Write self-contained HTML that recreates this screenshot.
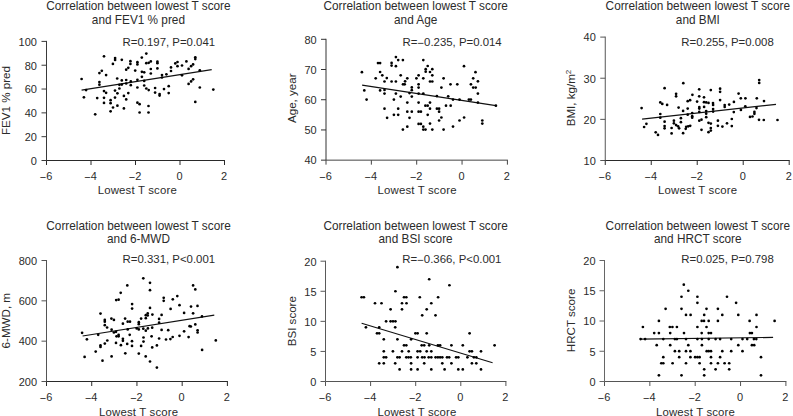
<!DOCTYPE html>
<html><head><meta charset="utf-8"><style>
html,body{margin:0;padding:0;background:#fff;width:793px;height:416px;overflow:hidden}
svg{display:block}
text{font-family:"Liberation Sans", sans-serif;font-size:11.3px;fill:#2b2b2b}
circle{fill:#000}
.tk{font-size:11px} .ti{font-size:11.8px} .an{font-size:11.4px} .xl{font-size:11.4px;letter-spacing:0.17px} .yl{font-size:11.6px}
</style></head><body>
<svg width="793" height="416" viewBox="0 0 793 416">
<path d="M46.50 40.90V160.50" stroke="#3a3a3a" stroke-width="1.0" fill="none"/>
<path d="M46.50 160.50H225.00" stroke="#2a2a2a" stroke-width="1.0" fill="none"/>
<path d="M41.50 160.50H46.50" stroke="#3a3a3a" stroke-width="1.0"/>
<text class="tk" transform="translate(36.90 164.80) scale(1 1.03)" text-anchor="end">0</text>
<path d="M41.50 136.68H46.50" stroke="#3a3a3a" stroke-width="1.0"/>
<text class="tk" transform="translate(36.90 140.98) scale(1 1.03)" text-anchor="end">20</text>
<path d="M41.50 112.86H46.50" stroke="#3a3a3a" stroke-width="1.0"/>
<text class="tk" transform="translate(36.90 117.16) scale(1 1.03)" text-anchor="end">40</text>
<path d="M41.50 89.04H46.50" stroke="#3a3a3a" stroke-width="1.0"/>
<text class="tk" transform="translate(36.90 93.34) scale(1 1.03)" text-anchor="end">60</text>
<path d="M41.50 65.22H46.50" stroke="#3a3a3a" stroke-width="1.0"/>
<text class="tk" transform="translate(36.90 69.52) scale(1 1.03)" text-anchor="end">80</text>
<path d="M41.50 41.40H46.50" stroke="#3a3a3a" stroke-width="1.0"/>
<text class="tk" transform="translate(36.90 45.70) scale(1 1.03)" text-anchor="end">100</text>
<path d="M46.50 160.50V165.00" stroke="#2a2a2a" stroke-width="1.0"/>
<text class="tk" transform="translate(46.00 180.00) scale(1 1.03)" text-anchor="middle"><tspan dy="0.9">−</tspan><tspan dy="-0.9">6</tspan></text>
<path d="M91.00 160.50V165.00" stroke="#2a2a2a" stroke-width="1.0"/>
<text class="tk" transform="translate(90.50 180.00) scale(1 1.03)" text-anchor="middle"><tspan dy="0.9">−</tspan><tspan dy="-0.9">4</tspan></text>
<path d="M135.50 160.50V165.00" stroke="#2a2a2a" stroke-width="1.0"/>
<text class="tk" transform="translate(135.00 180.00) scale(1 1.03)" text-anchor="middle"><tspan dy="0.9">−</tspan><tspan dy="-0.9">2</tspan></text>
<path d="M180.00 160.50V165.00" stroke="#2a2a2a" stroke-width="1.0"/>
<text class="tk" transform="translate(179.50 180.00) scale(1 1.03)" text-anchor="middle">0</text>
<path d="M224.50 160.50V165.00" stroke="#2a2a2a" stroke-width="1.0"/>
<text class="tk" transform="translate(224.00 180.00) scale(1 1.03)" text-anchor="middle">2</text>
<text class="ti" transform="translate(138.40 10.20) scale(1 1.03)" text-anchor="middle">Correlation between lowest T score</text>
<text class="ti" transform="translate(138.40 23.80) scale(1 1.03)" text-anchor="middle">and FEV1 % pred</text>
<text class="an" transform="translate(122.60 46.00) scale(1 1.03)">R=0.197, P=0.041</text>
<text class="xl" x="137.30" y="194.00" text-anchor="middle">Lowest T score</text>
<text class="yl" transform="translate(10.20 100.50) rotate(-90)" text-anchor="middle">FEV1 % pred</text>
<path d="M81.60 90.10L211.70 69.70" stroke="#111" stroke-width="1.2"/>
<circle cx="104.00" cy="56.30" r="1.35"/>
<circle cx="115.10" cy="58.10" r="1.35"/>
<circle cx="115.10" cy="59.90" r="1.35"/>
<circle cx="121.80" cy="59.80" r="1.35"/>
<circle cx="112.90" cy="63.90" r="1.35"/>
<circle cx="101.80" cy="70.80" r="1.35"/>
<circle cx="99.40" cy="73.10" r="1.35"/>
<circle cx="106.10" cy="75.10" r="1.35"/>
<circle cx="81.60" cy="79.00" r="1.35"/>
<circle cx="117.20" cy="78.50" r="1.35"/>
<circle cx="121.80" cy="80.40" r="1.35"/>
<circle cx="126.20" cy="80.00" r="1.35"/>
<circle cx="99.40" cy="82.00" r="1.35"/>
<circle cx="99.40" cy="84.70" r="1.35"/>
<circle cx="130.40" cy="61.20" r="1.35"/>
<circle cx="130.40" cy="63.90" r="1.35"/>
<circle cx="137.40" cy="62.20" r="1.35"/>
<circle cx="137.40" cy="64.40" r="1.35"/>
<circle cx="141.80" cy="57.60" r="1.35"/>
<circle cx="146.30" cy="53.60" r="1.35"/>
<circle cx="146.30" cy="63.20" r="1.35"/>
<circle cx="148.70" cy="62.80" r="1.35"/>
<circle cx="150.80" cy="61.40" r="1.35"/>
<circle cx="128.30" cy="67.80" r="1.35"/>
<circle cx="126.20" cy="69.70" r="1.35"/>
<circle cx="135.20" cy="70.60" r="1.35"/>
<circle cx="141.90" cy="71.80" r="1.35"/>
<circle cx="144.20" cy="72.30" r="1.35"/>
<circle cx="150.80" cy="69.00" r="1.35"/>
<circle cx="150.80" cy="73.50" r="1.35"/>
<circle cx="141.90" cy="76.80" r="1.35"/>
<circle cx="130.80" cy="81.40" r="1.35"/>
<circle cx="137.40" cy="79.80" r="1.35"/>
<circle cx="144.20" cy="80.90" r="1.35"/>
<circle cx="157.40" cy="61.70" r="1.35"/>
<circle cx="157.40" cy="63.20" r="1.35"/>
<circle cx="157.40" cy="68.40" r="1.35"/>
<circle cx="171.00" cy="67.40" r="1.35"/>
<circle cx="171.00" cy="71.00" r="1.35"/>
<circle cx="166.40" cy="74.30" r="1.35"/>
<circle cx="162.00" cy="75.00" r="1.35"/>
<circle cx="162.00" cy="77.50" r="1.35"/>
<circle cx="175.30" cy="63.40" r="1.35"/>
<circle cx="177.50" cy="62.00" r="1.35"/>
<circle cx="177.50" cy="66.20" r="1.35"/>
<circle cx="182.00" cy="65.50" r="1.35"/>
<circle cx="186.40" cy="61.40" r="1.35"/>
<circle cx="195.30" cy="57.30" r="1.35"/>
<circle cx="195.30" cy="59.10" r="1.35"/>
<circle cx="193.10" cy="64.40" r="1.35"/>
<circle cx="191.10" cy="66.20" r="1.35"/>
<circle cx="188.60" cy="68.90" r="1.35"/>
<circle cx="182.00" cy="75.30" r="1.35"/>
<circle cx="199.80" cy="70.30" r="1.35"/>
<circle cx="193.10" cy="79.30" r="1.35"/>
<circle cx="191.10" cy="81.40" r="1.35"/>
<circle cx="188.60" cy="83.90" r="1.35"/>
<circle cx="119.40" cy="84.80" r="1.35"/>
<circle cx="121.80" cy="84.60" r="1.35"/>
<circle cx="126.20" cy="83.50" r="1.35"/>
<circle cx="130.80" cy="85.20" r="1.35"/>
<circle cx="144.20" cy="85.50" r="1.35"/>
<circle cx="119.40" cy="88.50" r="1.35"/>
<circle cx="86.10" cy="90.10" r="1.35"/>
<circle cx="83.90" cy="97.30" r="1.35"/>
<circle cx="97.20" cy="98.10" r="1.35"/>
<circle cx="104.00" cy="91.10" r="1.35"/>
<circle cx="106.10" cy="92.80" r="1.35"/>
<circle cx="104.00" cy="97.80" r="1.35"/>
<circle cx="104.00" cy="102.90" r="1.35"/>
<circle cx="95.20" cy="114.30" r="1.35"/>
<circle cx="115.00" cy="90.60" r="1.35"/>
<circle cx="117.40" cy="93.30" r="1.35"/>
<circle cx="115.00" cy="97.60" r="1.35"/>
<circle cx="110.60" cy="100.20" r="1.35"/>
<circle cx="110.60" cy="103.20" r="1.35"/>
<circle cx="113.00" cy="107.50" r="1.35"/>
<circle cx="117.40" cy="105.70" r="1.35"/>
<circle cx="110.60" cy="111.30" r="1.35"/>
<circle cx="123.90" cy="95.90" r="1.35"/>
<circle cx="126.20" cy="99.40" r="1.35"/>
<circle cx="128.30" cy="93.10" r="1.35"/>
<circle cx="123.90" cy="108.40" r="1.35"/>
<circle cx="137.40" cy="87.50" r="1.35"/>
<circle cx="146.30" cy="88.50" r="1.35"/>
<circle cx="148.70" cy="90.10" r="1.35"/>
<circle cx="137.40" cy="102.70" r="1.35"/>
<circle cx="139.60" cy="104.20" r="1.35"/>
<circle cx="148.50" cy="106.00" r="1.35"/>
<circle cx="139.60" cy="112.50" r="1.35"/>
<circle cx="148.50" cy="112.50" r="1.35"/>
<circle cx="155.10" cy="88.00" r="1.35"/>
<circle cx="155.10" cy="92.60" r="1.35"/>
<circle cx="159.60" cy="94.10" r="1.35"/>
<circle cx="159.60" cy="95.60" r="1.35"/>
<circle cx="164.00" cy="89.10" r="1.35"/>
<circle cx="168.70" cy="86.20" r="1.35"/>
<circle cx="168.70" cy="93.10" r="1.35"/>
<circle cx="199.80" cy="87.50" r="1.35"/>
<circle cx="213.30" cy="89.60" r="1.35"/>
<circle cx="195.30" cy="101.90" r="1.35"/>
<path d="M326.00 38.80V160.15" stroke="#333" stroke-width="1.0" fill="none"/>
<path d="M326.00 160.15H507.90" stroke="#444" stroke-width="1.0" fill="none"/>
<path d="M321.00 160.15H326.00" stroke="#333" stroke-width="1.0"/>
<text class="tk" transform="translate(316.70 164.45) scale(1 1.03)" text-anchor="end">40</text>
<path d="M321.00 129.94H326.00" stroke="#333" stroke-width="1.0"/>
<text class="tk" transform="translate(316.70 134.24) scale(1 1.03)" text-anchor="end">50</text>
<path d="M321.00 99.72H326.00" stroke="#333" stroke-width="1.0"/>
<text class="tk" transform="translate(316.70 104.02) scale(1 1.03)" text-anchor="end">60</text>
<path d="M321.00 69.51H326.00" stroke="#333" stroke-width="1.0"/>
<text class="tk" transform="translate(316.70 73.81) scale(1 1.03)" text-anchor="end">70</text>
<path d="M321.00 39.30H326.00" stroke="#333" stroke-width="1.0"/>
<text class="tk" transform="translate(316.70 43.60) scale(1 1.03)" text-anchor="end">80</text>
<path d="M326.00 160.15V164.65" stroke="#444" stroke-width="1.0"/>
<text class="tk" transform="translate(325.50 179.65) scale(1 1.03)" text-anchor="middle"><tspan dy="0.9">−</tspan><tspan dy="-0.9">6</tspan></text>
<path d="M371.35 160.15V164.65" stroke="#444" stroke-width="1.0"/>
<text class="tk" transform="translate(370.85 179.65) scale(1 1.03)" text-anchor="middle"><tspan dy="0.9">−</tspan><tspan dy="-0.9">4</tspan></text>
<path d="M416.70 160.15V164.65" stroke="#444" stroke-width="1.0"/>
<text class="tk" transform="translate(416.20 179.65) scale(1 1.03)" text-anchor="middle"><tspan dy="0.9">−</tspan><tspan dy="-0.9">2</tspan></text>
<path d="M462.05 160.15V164.65" stroke="#444" stroke-width="1.0"/>
<text class="tk" transform="translate(461.55 179.65) scale(1 1.03)" text-anchor="middle">0</text>
<path d="M507.40 160.15V164.65" stroke="#444" stroke-width="1.0"/>
<text class="tk" transform="translate(506.90 179.65) scale(1 1.03)" text-anchor="middle">2</text>
<text class="ti" transform="translate(415.70 10.20) scale(1 1.03)" text-anchor="middle">Correlation between lowest T score</text>
<text class="ti" transform="translate(415.70 23.80) scale(1 1.03)" text-anchor="middle">and Age</text>
<text class="an" transform="translate(402.50 46.00) scale(1 1.03)">R=<tspan dy="0.9">−</tspan><tspan dy="-0.9">0.235</tspan>, P=0.014</text>
<text class="xl" x="417.10" y="194.00" text-anchor="middle">Lowest T score</text>
<text class="yl" transform="translate(296.40 98.20) rotate(-90)" text-anchor="middle">Age, year</text>
<path d="M362.10 85.20L495.90 105.70" stroke="#111" stroke-width="1.2"/>
<circle cx="395.90" cy="57.10" r="1.35"/>
<circle cx="398.20" cy="60.10" r="1.35"/>
<circle cx="402.90" cy="60.10" r="1.35"/>
<circle cx="423.30" cy="60.10" r="1.35"/>
<circle cx="378.00" cy="63.10" r="1.35"/>
<circle cx="380.10" cy="63.10" r="1.35"/>
<circle cx="391.60" cy="62.90" r="1.35"/>
<circle cx="391.60" cy="65.60" r="1.35"/>
<circle cx="395.90" cy="66.20" r="1.35"/>
<circle cx="427.70" cy="66.00" r="1.35"/>
<circle cx="425.70" cy="69.20" r="1.35"/>
<circle cx="425.70" cy="71.70" r="1.35"/>
<circle cx="432.30" cy="69.20" r="1.35"/>
<circle cx="430.00" cy="72.00" r="1.35"/>
<circle cx="432.30" cy="75.30" r="1.35"/>
<circle cx="361.90" cy="72.20" r="1.35"/>
<circle cx="380.10" cy="72.00" r="1.35"/>
<circle cx="382.30" cy="75.30" r="1.35"/>
<circle cx="375.70" cy="78.30" r="1.35"/>
<circle cx="386.80" cy="78.10" r="1.35"/>
<circle cx="384.50" cy="81.50" r="1.35"/>
<circle cx="391.60" cy="81.50" r="1.35"/>
<circle cx="395.90" cy="81.50" r="1.35"/>
<circle cx="400.70" cy="75.30" r="1.35"/>
<circle cx="407.30" cy="78.30" r="1.35"/>
<circle cx="405.10" cy="81.30" r="1.35"/>
<circle cx="403.00" cy="84.30" r="1.35"/>
<circle cx="404.70" cy="84.30" r="1.35"/>
<circle cx="418.60" cy="75.30" r="1.35"/>
<circle cx="416.40" cy="78.30" r="1.35"/>
<circle cx="423.30" cy="78.30" r="1.35"/>
<circle cx="430.00" cy="81.50" r="1.35"/>
<circle cx="432.30" cy="81.50" r="1.35"/>
<circle cx="418.60" cy="84.30" r="1.35"/>
<circle cx="418.60" cy="87.60" r="1.35"/>
<circle cx="411.80" cy="87.40" r="1.35"/>
<circle cx="411.80" cy="90.20" r="1.35"/>
<circle cx="364.30" cy="90.40" r="1.35"/>
<circle cx="380.10" cy="90.40" r="1.35"/>
<circle cx="384.50" cy="89.90" r="1.35"/>
<circle cx="464.00" cy="66.20" r="1.35"/>
<circle cx="475.50" cy="72.20" r="1.35"/>
<circle cx="473.20" cy="78.30" r="1.35"/>
<circle cx="477.90" cy="81.30" r="1.35"/>
<circle cx="470.90" cy="84.30" r="1.35"/>
<circle cx="473.20" cy="87.60" r="1.35"/>
<circle cx="475.70" cy="87.60" r="1.35"/>
<circle cx="443.60" cy="78.30" r="1.35"/>
<circle cx="450.50" cy="84.30" r="1.35"/>
<circle cx="457.30" cy="84.30" r="1.35"/>
<circle cx="441.40" cy="87.60" r="1.35"/>
<circle cx="384.50" cy="93.60" r="1.35"/>
<circle cx="395.90" cy="93.60" r="1.35"/>
<circle cx="400.70" cy="96.60" r="1.35"/>
<circle cx="409.50" cy="93.10" r="1.35"/>
<circle cx="411.80" cy="96.60" r="1.35"/>
<circle cx="418.60" cy="93.60" r="1.35"/>
<circle cx="423.30" cy="93.60" r="1.35"/>
<circle cx="366.60" cy="99.60" r="1.35"/>
<circle cx="393.90" cy="99.60" r="1.35"/>
<circle cx="407.30" cy="102.60" r="1.35"/>
<circle cx="418.60" cy="102.60" r="1.35"/>
<circle cx="430.00" cy="102.60" r="1.35"/>
<circle cx="425.40" cy="105.70" r="1.35"/>
<circle cx="427.70" cy="105.70" r="1.35"/>
<circle cx="430.00" cy="108.70" r="1.35"/>
<circle cx="384.50" cy="108.70" r="1.35"/>
<circle cx="398.20" cy="108.70" r="1.35"/>
<circle cx="407.30" cy="111.70" r="1.35"/>
<circle cx="411.80" cy="111.70" r="1.35"/>
<circle cx="418.60" cy="111.70" r="1.35"/>
<circle cx="420.90" cy="111.70" r="1.35"/>
<circle cx="393.90" cy="114.80" r="1.35"/>
<circle cx="398.20" cy="114.80" r="1.35"/>
<circle cx="427.70" cy="114.80" r="1.35"/>
<circle cx="387.10" cy="117.80" r="1.35"/>
<circle cx="409.50" cy="117.80" r="1.35"/>
<circle cx="418.60" cy="123.90" r="1.35"/>
<circle cx="420.90" cy="123.90" r="1.35"/>
<circle cx="430.00" cy="123.60" r="1.35"/>
<circle cx="407.30" cy="126.70" r="1.35"/>
<circle cx="423.30" cy="126.70" r="1.35"/>
<circle cx="436.90" cy="96.10" r="1.35"/>
<circle cx="448.20" cy="96.30" r="1.35"/>
<circle cx="453.00" cy="99.60" r="1.35"/>
<circle cx="459.50" cy="99.60" r="1.35"/>
<circle cx="468.90" cy="99.60" r="1.35"/>
<circle cx="470.90" cy="99.60" r="1.35"/>
<circle cx="477.90" cy="93.60" r="1.35"/>
<circle cx="477.90" cy="102.60" r="1.35"/>
<circle cx="495.90" cy="105.70" r="1.35"/>
<circle cx="446.00" cy="105.70" r="1.35"/>
<circle cx="450.70" cy="105.70" r="1.35"/>
<circle cx="436.90" cy="108.70" r="1.35"/>
<circle cx="439.10" cy="108.70" r="1.35"/>
<circle cx="439.10" cy="111.70" r="1.35"/>
<circle cx="441.40" cy="117.50" r="1.35"/>
<circle cx="439.10" cy="120.50" r="1.35"/>
<circle cx="464.10" cy="117.50" r="1.35"/>
<circle cx="459.50" cy="120.50" r="1.35"/>
<circle cx="482.30" cy="120.50" r="1.35"/>
<circle cx="482.30" cy="123.60" r="1.35"/>
<circle cx="453.00" cy="126.60" r="1.35"/>
<circle cx="402.90" cy="129.60" r="1.35"/>
<circle cx="423.30" cy="129.60" r="1.35"/>
<circle cx="425.50" cy="129.60" r="1.35"/>
<circle cx="432.30" cy="129.60" r="1.35"/>
<circle cx="443.60" cy="129.60" r="1.35"/>
<path d="M605.25 36.60V160.50" stroke="#555" stroke-width="1.0" fill="none"/>
<path d="M605.25 160.50H789.70" stroke="#2a2a2a" stroke-width="1.0" fill="none"/>
<path d="M600.25 160.50H605.25" stroke="#555" stroke-width="1.0"/>
<text class="tk" transform="translate(595.85 164.80) scale(1 1.03)" text-anchor="end">10</text>
<path d="M600.25 119.37H605.25" stroke="#555" stroke-width="1.0"/>
<text class="tk" transform="translate(595.85 123.67) scale(1 1.03)" text-anchor="end">20</text>
<path d="M600.25 78.23H605.25" stroke="#555" stroke-width="1.0"/>
<text class="tk" transform="translate(595.85 82.53) scale(1 1.03)" text-anchor="end">30</text>
<path d="M600.25 37.10H605.25" stroke="#555" stroke-width="1.0"/>
<text class="tk" transform="translate(595.85 41.40) scale(1 1.03)" text-anchor="end">40</text>
<path d="M605.25 160.50V165.00" stroke="#2a2a2a" stroke-width="1.0"/>
<text class="tk" transform="translate(604.75 180.00) scale(1 1.03)" text-anchor="middle"><tspan dy="0.9">−</tspan><tspan dy="-0.9">6</tspan></text>
<path d="M651.24 160.50V165.00" stroke="#2a2a2a" stroke-width="1.0"/>
<text class="tk" transform="translate(650.74 180.00) scale(1 1.03)" text-anchor="middle"><tspan dy="0.9">−</tspan><tspan dy="-0.9">4</tspan></text>
<path d="M697.23 160.50V165.00" stroke="#2a2a2a" stroke-width="1.0"/>
<text class="tk" transform="translate(696.73 180.00) scale(1 1.03)" text-anchor="middle"><tspan dy="0.9">−</tspan><tspan dy="-0.9">2</tspan></text>
<path d="M743.21 160.50V165.00" stroke="#2a2a2a" stroke-width="1.0"/>
<text class="tk" transform="translate(742.71 180.00) scale(1 1.03)" text-anchor="middle">0</text>
<path d="M789.20 160.50V165.00" stroke="#2a2a2a" stroke-width="1.0"/>
<text class="tk" transform="translate(788.70 180.00) scale(1 1.03)" text-anchor="middle">2</text>
<text class="ti" transform="translate(697.80 10.20) scale(1 1.03)" text-anchor="middle">Correlation between lowest T score</text>
<text class="ti" transform="translate(697.80 23.80) scale(1 1.03)" text-anchor="middle">and BMI</text>
<text class="an" transform="translate(681.30 45.80) scale(1 1.03)">R=0.255, P=0.008</text>
<text class="xl" x="697.70" y="194.00" text-anchor="middle">Lowest T score</text>
<text class="yl" transform="translate(575.20 98.00) rotate(-90)" text-anchor="middle">BMI, kg/m<tspan dy="-4" font-size="8">2</tspan></text>
<path d="M642.10 119.20L776.00 104.40" stroke="#111" stroke-width="1.2"/>
<circle cx="683.30" cy="83.20" r="1.35"/>
<circle cx="664.60" cy="88.20" r="1.35"/>
<circle cx="699.20" cy="89.30" r="1.35"/>
<circle cx="710.80" cy="90.10" r="1.35"/>
<circle cx="676.10" cy="93.80" r="1.35"/>
<circle cx="676.10" cy="96.30" r="1.35"/>
<circle cx="692.40" cy="94.80" r="1.35"/>
<circle cx="699.20" cy="96.30" r="1.35"/>
<circle cx="704.00" cy="97.30" r="1.35"/>
<circle cx="687.70" cy="101.20" r="1.35"/>
<circle cx="690.10" cy="100.20" r="1.35"/>
<circle cx="697.10" cy="101.60" r="1.35"/>
<circle cx="704.00" cy="102.20" r="1.35"/>
<circle cx="706.20" cy="102.40" r="1.35"/>
<circle cx="708.50" cy="102.90" r="1.35"/>
<circle cx="660.30" cy="102.40" r="1.35"/>
<circle cx="662.30" cy="103.90" r="1.35"/>
<circle cx="667.10" cy="104.90" r="1.35"/>
<circle cx="720.10" cy="88.70" r="1.35"/>
<circle cx="720.10" cy="91.80" r="1.35"/>
<circle cx="720.10" cy="100.10" r="1.35"/>
<circle cx="759.20" cy="80.00" r="1.35"/>
<circle cx="759.20" cy="82.90" r="1.35"/>
<circle cx="738.60" cy="93.60" r="1.35"/>
<circle cx="740.80" cy="98.30" r="1.35"/>
<circle cx="745.40" cy="98.30" r="1.35"/>
<circle cx="756.80" cy="98.30" r="1.35"/>
<circle cx="764.00" cy="101.10" r="1.35"/>
<circle cx="733.90" cy="101.90" r="1.35"/>
<circle cx="713.00" cy="103.10" r="1.35"/>
<circle cx="641.60" cy="108.10" r="1.35"/>
<circle cx="660.30" cy="114.00" r="1.35"/>
<circle cx="660.30" cy="117.70" r="1.35"/>
<circle cx="646.40" cy="123.80" r="1.35"/>
<circle cx="644.10" cy="127.00" r="1.35"/>
<circle cx="664.60" cy="121.70" r="1.35"/>
<circle cx="664.60" cy="126.10" r="1.35"/>
<circle cx="664.60" cy="128.30" r="1.35"/>
<circle cx="673.90" cy="120.70" r="1.35"/>
<circle cx="673.90" cy="123.30" r="1.35"/>
<circle cx="671.60" cy="128.00" r="1.35"/>
<circle cx="671.60" cy="133.40" r="1.35"/>
<circle cx="655.70" cy="132.30" r="1.35"/>
<circle cx="658.00" cy="134.90" r="1.35"/>
<circle cx="678.60" cy="107.60" r="1.35"/>
<circle cx="687.70" cy="108.60" r="1.35"/>
<circle cx="683.10" cy="110.90" r="1.35"/>
<circle cx="699.30" cy="107.10" r="1.35"/>
<circle cx="699.30" cy="108.60" r="1.35"/>
<circle cx="704.10" cy="106.90" r="1.35"/>
<circle cx="699.30" cy="111.90" r="1.35"/>
<circle cx="692.20" cy="113.00" r="1.35"/>
<circle cx="706.20" cy="111.10" r="1.35"/>
<circle cx="706.20" cy="113.70" r="1.35"/>
<circle cx="687.70" cy="114.70" r="1.35"/>
<circle cx="692.20" cy="116.20" r="1.35"/>
<circle cx="692.20" cy="117.70" r="1.35"/>
<circle cx="706.20" cy="117.20" r="1.35"/>
<circle cx="680.90" cy="118.20" r="1.35"/>
<circle cx="680.90" cy="122.20" r="1.35"/>
<circle cx="699.30" cy="120.70" r="1.35"/>
<circle cx="701.50" cy="119.70" r="1.35"/>
<circle cx="676.10" cy="125.10" r="1.35"/>
<circle cx="678.10" cy="126.30" r="1.35"/>
<circle cx="679.10" cy="128.30" r="1.35"/>
<circle cx="686.20" cy="126.80" r="1.35"/>
<circle cx="688.20" cy="126.30" r="1.35"/>
<circle cx="690.20" cy="125.80" r="1.35"/>
<circle cx="685.70" cy="128.80" r="1.35"/>
<circle cx="683.10" cy="133.20" r="1.35"/>
<circle cx="701.50" cy="129.80" r="1.35"/>
<circle cx="708.50" cy="122.80" r="1.35"/>
<circle cx="710.80" cy="123.60" r="1.35"/>
<circle cx="710.80" cy="128.00" r="1.35"/>
<circle cx="710.80" cy="130.60" r="1.35"/>
<circle cx="708.50" cy="132.20" r="1.35"/>
<circle cx="713.10" cy="104.90" r="1.35"/>
<circle cx="724.70" cy="105.10" r="1.35"/>
<circle cx="724.70" cy="106.90" r="1.35"/>
<circle cx="729.20" cy="104.60" r="1.35"/>
<circle cx="713.10" cy="109.10" r="1.35"/>
<circle cx="713.10" cy="111.60" r="1.35"/>
<circle cx="733.80" cy="112.10" r="1.35"/>
<circle cx="740.90" cy="109.90" r="1.35"/>
<circle cx="731.80" cy="119.00" r="1.35"/>
<circle cx="717.90" cy="120.70" r="1.35"/>
<circle cx="727.00" cy="123.30" r="1.35"/>
<circle cx="717.90" cy="125.80" r="1.35"/>
<circle cx="722.40" cy="126.60" r="1.35"/>
<circle cx="731.80" cy="126.10" r="1.35"/>
<circle cx="745.30" cy="106.30" r="1.35"/>
<circle cx="756.50" cy="108.10" r="1.35"/>
<circle cx="754.40" cy="111.90" r="1.35"/>
<circle cx="754.40" cy="113.80" r="1.35"/>
<circle cx="750.00" cy="116.90" r="1.35"/>
<circle cx="752.50" cy="116.50" r="1.35"/>
<circle cx="759.00" cy="119.80" r="1.35"/>
<circle cx="763.80" cy="120.00" r="1.35"/>
<circle cx="777.50" cy="120.00" r="1.35"/>
<path d="M46.50 260.00V381.50" stroke="#555" stroke-width="1.0" fill="none"/>
<path d="M46.50 381.50H227.90" stroke="#2a2a2a" stroke-width="1.0" fill="none"/>
<path d="M41.50 381.50H46.50" stroke="#555" stroke-width="1.0"/>
<text class="tk" transform="translate(37.00 385.80) scale(1 1.03)" text-anchor="end">200</text>
<path d="M41.50 341.17H46.50" stroke="#555" stroke-width="1.0"/>
<text class="tk" transform="translate(37.00 345.47) scale(1 1.03)" text-anchor="end">400</text>
<path d="M41.50 300.83H46.50" stroke="#555" stroke-width="1.0"/>
<text class="tk" transform="translate(37.00 305.13) scale(1 1.03)" text-anchor="end">600</text>
<path d="M41.50 260.50H46.50" stroke="#555" stroke-width="1.0"/>
<text class="tk" transform="translate(37.00 264.80) scale(1 1.03)" text-anchor="end">800</text>
<path d="M46.50 381.50V386.00" stroke="#2a2a2a" stroke-width="1.0"/>
<text class="tk" transform="translate(46.00 401.00) scale(1 1.03)" text-anchor="middle"><tspan dy="0.9">−</tspan><tspan dy="-0.9">6</tspan></text>
<path d="M91.72 381.50V386.00" stroke="#2a2a2a" stroke-width="1.0"/>
<text class="tk" transform="translate(91.22 401.00) scale(1 1.03)" text-anchor="middle"><tspan dy="0.9">−</tspan><tspan dy="-0.9">4</tspan></text>
<path d="M136.95 381.50V386.00" stroke="#2a2a2a" stroke-width="1.0"/>
<text class="tk" transform="translate(136.45 401.00) scale(1 1.03)" text-anchor="middle"><tspan dy="0.9">−</tspan><tspan dy="-0.9">2</tspan></text>
<path d="M182.18 381.50V386.00" stroke="#2a2a2a" stroke-width="1.0"/>
<text class="tk" transform="translate(181.68 401.00) scale(1 1.03)" text-anchor="middle">0</text>
<path d="M227.40 381.50V386.00" stroke="#2a2a2a" stroke-width="1.0"/>
<text class="tk" transform="translate(226.90 401.00) scale(1 1.03)" text-anchor="middle">2</text>
<text class="ti" transform="translate(138.50 229.90) scale(1 1.03)" text-anchor="middle">Correlation between lowest T score</text>
<text class="ti" transform="translate(138.50 243.00) scale(1 1.03)" text-anchor="middle">and 6-MWD</text>
<text class="an" transform="translate(122.60 263.00) scale(1 1.03)">R=0.331, P&lt;0.001</text>
<text class="xl" x="138.70" y="415.50" text-anchor="middle">Lowest T score</text>
<text class="yl" transform="translate(10.20 320.70) rotate(-90)" text-anchor="middle">6-MWD, m</text>
<path d="M82.60 336.00L214.30 315.20" stroke="#111" stroke-width="1.2"/>
<circle cx="143.30" cy="278.30" r="1.35"/>
<circle cx="150.00" cy="282.80" r="1.35"/>
<circle cx="127.30" cy="285.40" r="1.35"/>
<circle cx="150.00" cy="290.20" r="1.35"/>
<circle cx="120.70" cy="292.80" r="1.35"/>
<circle cx="116.20" cy="300.10" r="1.35"/>
<circle cx="118.60" cy="299.70" r="1.35"/>
<circle cx="132.10" cy="304.10" r="1.35"/>
<circle cx="132.10" cy="308.60" r="1.35"/>
<circle cx="150.00" cy="307.90" r="1.35"/>
<circle cx="193.10" cy="285.40" r="1.35"/>
<circle cx="195.30" cy="289.40" r="1.35"/>
<circle cx="177.30" cy="296.10" r="1.35"/>
<circle cx="163.70" cy="297.80" r="1.35"/>
<circle cx="163.70" cy="300.80" r="1.35"/>
<circle cx="172.80" cy="299.30" r="1.35"/>
<circle cx="179.50" cy="305.20" r="1.35"/>
<circle cx="191.00" cy="306.60" r="1.35"/>
<circle cx="197.50" cy="305.90" r="1.35"/>
<circle cx="170.60" cy="308.90" r="1.35"/>
<circle cx="100.50" cy="313.60" r="1.35"/>
<circle cx="104.80" cy="319.90" r="1.35"/>
<circle cx="104.80" cy="321.70" r="1.35"/>
<circle cx="111.40" cy="318.60" r="1.35"/>
<circle cx="113.90" cy="319.90" r="1.35"/>
<circle cx="104.80" cy="325.20" r="1.35"/>
<circle cx="107.10" cy="327.50" r="1.35"/>
<circle cx="82.10" cy="332.80" r="1.35"/>
<circle cx="98.20" cy="334.80" r="1.35"/>
<circle cx="111.60" cy="329.70" r="1.35"/>
<circle cx="113.90" cy="332.50" r="1.35"/>
<circle cx="86.90" cy="339.30" r="1.35"/>
<circle cx="107.30" cy="340.50" r="1.35"/>
<circle cx="104.80" cy="343.60" r="1.35"/>
<circle cx="100.50" cy="345.40" r="1.35"/>
<circle cx="100.50" cy="346.90" r="1.35"/>
<circle cx="125.10" cy="318.60" r="1.35"/>
<circle cx="127.70" cy="321.70" r="1.35"/>
<circle cx="130.00" cy="321.70" r="1.35"/>
<circle cx="122.90" cy="323.70" r="1.35"/>
<circle cx="141.10" cy="318.60" r="1.35"/>
<circle cx="138.80" cy="322.20" r="1.35"/>
<circle cx="138.80" cy="324.20" r="1.35"/>
<circle cx="145.80" cy="315.20" r="1.35"/>
<circle cx="147.70" cy="313.40" r="1.35"/>
<circle cx="147.70" cy="315.50" r="1.35"/>
<circle cx="152.40" cy="314.60" r="1.35"/>
<circle cx="145.80" cy="318.20" r="1.35"/>
<circle cx="136.70" cy="328.40" r="1.35"/>
<circle cx="138.80" cy="329.40" r="1.35"/>
<circle cx="127.70" cy="329.40" r="1.35"/>
<circle cx="143.30" cy="328.70" r="1.35"/>
<circle cx="145.80" cy="330.70" r="1.35"/>
<circle cx="147.90" cy="328.40" r="1.35"/>
<circle cx="116.00" cy="331.80" r="1.35"/>
<circle cx="116.50" cy="336.30" r="1.35"/>
<circle cx="118.60" cy="336.30" r="1.35"/>
<circle cx="118.60" cy="334.80" r="1.35"/>
<circle cx="129.70" cy="334.80" r="1.35"/>
<circle cx="122.90" cy="338.80" r="1.35"/>
<circle cx="122.90" cy="340.80" r="1.35"/>
<circle cx="116.00" cy="342.90" r="1.35"/>
<circle cx="132.00" cy="341.20" r="1.35"/>
<circle cx="143.50" cy="337.50" r="1.35"/>
<circle cx="143.50" cy="341.60" r="1.35"/>
<circle cx="127.20" cy="343.90" r="1.35"/>
<circle cx="120.90" cy="345.20" r="1.35"/>
<circle cx="132.00" cy="345.90" r="1.35"/>
<circle cx="141.10" cy="345.90" r="1.35"/>
<circle cx="151.60" cy="336.30" r="1.35"/>
<circle cx="184.10" cy="312.90" r="1.35"/>
<circle cx="161.60" cy="314.90" r="1.35"/>
<circle cx="159.10" cy="318.90" r="1.35"/>
<circle cx="159.10" cy="322.70" r="1.35"/>
<circle cx="152.20" cy="327.70" r="1.35"/>
<circle cx="161.60" cy="329.90" r="1.35"/>
<circle cx="168.20" cy="330.20" r="1.35"/>
<circle cx="184.10" cy="331.30" r="1.35"/>
<circle cx="159.10" cy="338.50" r="1.35"/>
<circle cx="166.00" cy="339.50" r="1.35"/>
<circle cx="170.40" cy="339.10" r="1.35"/>
<circle cx="172.70" cy="337.00" r="1.35"/>
<circle cx="179.50" cy="335.80" r="1.35"/>
<circle cx="188.60" cy="337.10" r="1.35"/>
<circle cx="156.90" cy="345.40" r="1.35"/>
<circle cx="152.20" cy="347.40" r="1.35"/>
<circle cx="189.60" cy="326.20" r="1.35"/>
<circle cx="193.10" cy="313.30" r="1.35"/>
<circle cx="202.00" cy="316.40" r="1.35"/>
<circle cx="190.90" cy="326.50" r="1.35"/>
<circle cx="195.30" cy="324.40" r="1.35"/>
<circle cx="197.60" cy="330.30" r="1.35"/>
<circle cx="197.60" cy="332.50" r="1.35"/>
<circle cx="215.80" cy="340.40" r="1.35"/>
<circle cx="95.70" cy="351.60" r="1.35"/>
<circle cx="84.60" cy="356.90" r="1.35"/>
<circle cx="102.50" cy="360.70" r="1.35"/>
<circle cx="111.60" cy="356.40" r="1.35"/>
<circle cx="125.30" cy="353.30" r="1.35"/>
<circle cx="138.80" cy="353.60" r="1.35"/>
<circle cx="145.70" cy="356.40" r="1.35"/>
<circle cx="150.00" cy="361.50" r="1.35"/>
<circle cx="156.90" cy="367.60" r="1.35"/>
<circle cx="202.10" cy="349.90" r="1.35"/>
<path d="M325.50 260.70V381.50" stroke="#5a5a5a" stroke-width="1.0" fill="none"/>
<path d="M325.50 381.50H506.40" stroke="#555" stroke-width="1.0" fill="none"/>
<path d="M320.50 381.50H325.50" stroke="#5a5a5a" stroke-width="1.0"/>
<text class="tk" transform="translate(316.50 385.80) scale(1 1.03)" text-anchor="end">0</text>
<path d="M320.50 351.43H325.50" stroke="#5a5a5a" stroke-width="1.0"/>
<text class="tk" transform="translate(316.50 355.73) scale(1 1.03)" text-anchor="end">5</text>
<path d="M320.50 321.35H325.50" stroke="#5a5a5a" stroke-width="1.0"/>
<text class="tk" transform="translate(316.50 325.65) scale(1 1.03)" text-anchor="end">10</text>
<path d="M320.50 291.27H325.50" stroke="#5a5a5a" stroke-width="1.0"/>
<text class="tk" transform="translate(316.50 295.57) scale(1 1.03)" text-anchor="end">15</text>
<path d="M320.50 261.20H325.50" stroke="#5a5a5a" stroke-width="1.0"/>
<text class="tk" transform="translate(316.50 265.50) scale(1 1.03)" text-anchor="end">20</text>
<path d="M325.50 381.50V386.00" stroke="#555" stroke-width="1.0"/>
<text class="tk" transform="translate(325.00 401.00) scale(1 1.03)" text-anchor="middle"><tspan dy="0.9">−</tspan><tspan dy="-0.9">6</tspan></text>
<path d="M370.60 381.50V386.00" stroke="#555" stroke-width="1.0"/>
<text class="tk" transform="translate(370.10 401.00) scale(1 1.03)" text-anchor="middle"><tspan dy="0.9">−</tspan><tspan dy="-0.9">4</tspan></text>
<path d="M415.70 381.50V386.00" stroke="#555" stroke-width="1.0"/>
<text class="tk" transform="translate(415.20 401.00) scale(1 1.03)" text-anchor="middle"><tspan dy="0.9">−</tspan><tspan dy="-0.9">2</tspan></text>
<path d="M460.80 381.50V386.00" stroke="#555" stroke-width="1.0"/>
<text class="tk" transform="translate(460.30 401.00) scale(1 1.03)" text-anchor="middle">0</text>
<path d="M505.90 381.50V386.00" stroke="#555" stroke-width="1.0"/>
<text class="tk" transform="translate(505.40 401.00) scale(1 1.03)" text-anchor="middle">2</text>
<text class="ti" transform="translate(415.60 229.90) scale(1 1.03)" text-anchor="middle">Correlation between lowest T score</text>
<text class="ti" transform="translate(415.60 243.00) scale(1 1.03)" text-anchor="middle">and BSI score</text>
<text class="an" transform="translate(402.30 263.10) scale(1 1.03)">R=<tspan dy="0.9">−</tspan><tspan dy="-0.9">0.366</tspan>, P&lt;0.001</text>
<text class="xl" x="417.00" y="415.50" text-anchor="middle">Lowest T score</text>
<text class="yl" transform="translate(295.80 321.20) rotate(-90)" text-anchor="middle">BSI score</text>
<path d="M361.60 323.30L492.60 362.80" stroke="#111" stroke-width="1.2"/>
<circle cx="397.40" cy="267.21" r="1.35"/>
<circle cx="429.20" cy="279.23" r="1.35"/>
<circle cx="449.40" cy="285.24" r="1.35"/>
<circle cx="395.40" cy="291.25" r="1.35"/>
<circle cx="361.60" cy="297.26" r="1.35"/>
<circle cx="363.90" cy="297.26" r="1.35"/>
<circle cx="404.00" cy="297.26" r="1.35"/>
<circle cx="406.30" cy="297.26" r="1.35"/>
<circle cx="419.80" cy="297.26" r="1.35"/>
<circle cx="438.10" cy="297.26" r="1.35"/>
<circle cx="375.00" cy="303.27" r="1.35"/>
<circle cx="381.50" cy="303.27" r="1.35"/>
<circle cx="402.00" cy="303.27" r="1.35"/>
<circle cx="406.50" cy="303.27" r="1.35"/>
<circle cx="431.30" cy="303.27" r="1.35"/>
<circle cx="390.60" cy="309.28" r="1.35"/>
<circle cx="402.00" cy="309.28" r="1.35"/>
<circle cx="426.70" cy="309.28" r="1.35"/>
<circle cx="422.20" cy="315.29" r="1.35"/>
<circle cx="435.50" cy="315.29" r="1.35"/>
<circle cx="386.10" cy="321.30" r="1.35"/>
<circle cx="390.60" cy="321.30" r="1.35"/>
<circle cx="393.00" cy="321.30" r="1.35"/>
<circle cx="395.40" cy="321.30" r="1.35"/>
<circle cx="365.90" cy="327.31" r="1.35"/>
<circle cx="379.20" cy="327.31" r="1.35"/>
<circle cx="395.20" cy="327.31" r="1.35"/>
<circle cx="377.00" cy="333.32" r="1.35"/>
<circle cx="379.20" cy="333.32" r="1.35"/>
<circle cx="415.40" cy="333.32" r="1.35"/>
<circle cx="417.60" cy="333.32" r="1.35"/>
<circle cx="426.70" cy="333.32" r="1.35"/>
<circle cx="469.60" cy="333.32" r="1.35"/>
<circle cx="383.80" cy="339.33" r="1.35"/>
<circle cx="397.40" cy="339.33" r="1.35"/>
<circle cx="411.10" cy="339.33" r="1.35"/>
<circle cx="404.00" cy="345.34" r="1.35"/>
<circle cx="406.30" cy="345.34" r="1.35"/>
<circle cx="421.70" cy="345.34" r="1.35"/>
<circle cx="424.20" cy="345.34" r="1.35"/>
<circle cx="429.20" cy="345.34" r="1.35"/>
<circle cx="437.90" cy="345.34" r="1.35"/>
<circle cx="440.10" cy="345.34" r="1.35"/>
<circle cx="451.40" cy="345.34" r="1.35"/>
<circle cx="462.80" cy="345.34" r="1.35"/>
<circle cx="494.60" cy="345.34" r="1.35"/>
<circle cx="383.80" cy="351.35" r="1.35"/>
<circle cx="392.90" cy="351.35" r="1.35"/>
<circle cx="402.00" cy="351.35" r="1.35"/>
<circle cx="408.70" cy="351.35" r="1.35"/>
<circle cx="417.60" cy="351.35" r="1.35"/>
<circle cx="420.20" cy="351.35" r="1.35"/>
<circle cx="426.70" cy="351.35" r="1.35"/>
<circle cx="431.30" cy="351.35" r="1.35"/>
<circle cx="469.60" cy="351.35" r="1.35"/>
<circle cx="471.90" cy="351.35" r="1.35"/>
<circle cx="481.00" cy="351.35" r="1.35"/>
<circle cx="383.80" cy="357.36" r="1.35"/>
<circle cx="386.10" cy="357.36" r="1.35"/>
<circle cx="397.40" cy="357.36" r="1.35"/>
<circle cx="399.60" cy="357.36" r="1.35"/>
<circle cx="406.30" cy="357.36" r="1.35"/>
<circle cx="408.50" cy="357.36" r="1.35"/>
<circle cx="410.80" cy="357.36" r="1.35"/>
<circle cx="417.60" cy="357.36" r="1.35"/>
<circle cx="422.20" cy="357.36" r="1.35"/>
<circle cx="424.50" cy="357.36" r="1.35"/>
<circle cx="428.70" cy="357.36" r="1.35"/>
<circle cx="431.30" cy="357.36" r="1.35"/>
<circle cx="435.60" cy="357.36" r="1.35"/>
<circle cx="437.90" cy="357.36" r="1.35"/>
<circle cx="440.10" cy="357.36" r="1.35"/>
<circle cx="442.30" cy="357.36" r="1.35"/>
<circle cx="447.00" cy="357.36" r="1.35"/>
<circle cx="449.20" cy="357.36" r="1.35"/>
<circle cx="456.10" cy="357.36" r="1.35"/>
<circle cx="458.30" cy="357.36" r="1.35"/>
<circle cx="467.40" cy="357.36" r="1.35"/>
<circle cx="473.90" cy="357.36" r="1.35"/>
<circle cx="476.30" cy="357.36" r="1.35"/>
<circle cx="379.20" cy="363.37" r="1.35"/>
<circle cx="383.80" cy="363.37" r="1.35"/>
<circle cx="395.20" cy="363.37" r="1.35"/>
<circle cx="411.10" cy="363.37" r="1.35"/>
<circle cx="424.20" cy="363.37" r="1.35"/>
<circle cx="442.30" cy="363.37" r="1.35"/>
<circle cx="451.40" cy="363.37" r="1.35"/>
<circle cx="471.90" cy="363.37" r="1.35"/>
<circle cx="476.30" cy="363.37" r="1.35"/>
<circle cx="399.60" cy="369.38" r="1.35"/>
<circle cx="411.10" cy="369.38" r="1.35"/>
<circle cx="417.60" cy="369.38" r="1.35"/>
<circle cx="431.30" cy="369.38" r="1.35"/>
<circle cx="444.60" cy="369.38" r="1.35"/>
<circle cx="458.30" cy="369.38" r="1.35"/>
<circle cx="462.80" cy="369.38" r="1.35"/>
<circle cx="481.00" cy="369.38" r="1.35"/>
<path d="M604.50 260.00V381.50" stroke="#666" stroke-width="1.0" fill="none"/>
<path d="M604.50 381.50H786.40" stroke="#555" stroke-width="1.0" fill="none"/>
<path d="M599.50 381.50H604.50" stroke="#666" stroke-width="1.0"/>
<text class="tk" transform="translate(595.60 385.80) scale(1 1.03)" text-anchor="end">0</text>
<path d="M599.50 351.25H604.50" stroke="#666" stroke-width="1.0"/>
<text class="tk" transform="translate(595.60 355.55) scale(1 1.03)" text-anchor="end">5</text>
<path d="M599.50 321.00H604.50" stroke="#666" stroke-width="1.0"/>
<text class="tk" transform="translate(595.60 325.30) scale(1 1.03)" text-anchor="end">10</text>
<path d="M599.50 290.75H604.50" stroke="#666" stroke-width="1.0"/>
<text class="tk" transform="translate(595.60 295.05) scale(1 1.03)" text-anchor="end">15</text>
<path d="M599.50 260.50H604.50" stroke="#666" stroke-width="1.0"/>
<text class="tk" transform="translate(595.60 264.80) scale(1 1.03)" text-anchor="end">20</text>
<path d="M604.50 381.50V386.00" stroke="#555" stroke-width="1.0"/>
<text class="tk" transform="translate(604.00 401.00) scale(1 1.03)" text-anchor="middle"><tspan dy="0.9">−</tspan><tspan dy="-0.9">6</tspan></text>
<path d="M649.85 381.50V386.00" stroke="#555" stroke-width="1.0"/>
<text class="tk" transform="translate(649.35 401.00) scale(1 1.03)" text-anchor="middle"><tspan dy="0.9">−</tspan><tspan dy="-0.9">4</tspan></text>
<path d="M695.20 381.50V386.00" stroke="#555" stroke-width="1.0"/>
<text class="tk" transform="translate(694.70 401.00) scale(1 1.03)" text-anchor="middle"><tspan dy="0.9">−</tspan><tspan dy="-0.9">2</tspan></text>
<path d="M740.55 381.50V386.00" stroke="#555" stroke-width="1.0"/>
<text class="tk" transform="translate(740.05 401.00) scale(1 1.03)" text-anchor="middle">0</text>
<path d="M785.90 381.50V386.00" stroke="#555" stroke-width="1.0"/>
<text class="tk" transform="translate(785.40 401.00) scale(1 1.03)" text-anchor="middle">2</text>
<text class="ti" transform="translate(697.80 229.90) scale(1 1.03)" text-anchor="middle">Correlation between lowest T score</text>
<text class="ti" transform="translate(697.80 243.00) scale(1 1.03)" text-anchor="middle">and HRCT score</text>
<text class="an" transform="translate(681.30 262.90) scale(1 1.03)">R=0.025, P=0.798</text>
<text class="xl" x="695.50" y="415.50" text-anchor="middle">Lowest T score</text>
<text class="yl" transform="translate(575.30 320.40) rotate(-90)" text-anchor="middle">HRCT score</text>
<path d="M640.60 339.10L773.10 337.40" stroke="#111" stroke-width="1.2"/>
<circle cx="683.80" cy="284.68" r="1.35"/>
<circle cx="688.30" cy="290.73" r="1.35"/>
<circle cx="681.50" cy="296.77" r="1.35"/>
<circle cx="697.40" cy="296.77" r="1.35"/>
<circle cx="727.00" cy="296.77" r="1.35"/>
<circle cx="697.40" cy="302.81" r="1.35"/>
<circle cx="736.10" cy="302.81" r="1.35"/>
<circle cx="665.60" cy="308.86" r="1.35"/>
<circle cx="681.50" cy="308.86" r="1.35"/>
<circle cx="706.50" cy="308.86" r="1.35"/>
<circle cx="717.90" cy="308.86" r="1.35"/>
<circle cx="686.00" cy="314.90" r="1.35"/>
<circle cx="690.60" cy="314.90" r="1.35"/>
<circle cx="704.20" cy="314.90" r="1.35"/>
<circle cx="722.30" cy="314.90" r="1.35"/>
<circle cx="738.30" cy="314.90" r="1.35"/>
<circle cx="756.50" cy="314.90" r="1.35"/>
<circle cx="658.90" cy="320.95" r="1.35"/>
<circle cx="701.70" cy="320.95" r="1.35"/>
<circle cx="704.00" cy="320.95" r="1.35"/>
<circle cx="708.70" cy="320.95" r="1.35"/>
<circle cx="717.90" cy="320.95" r="1.35"/>
<circle cx="749.60" cy="320.95" r="1.35"/>
<circle cx="774.60" cy="320.95" r="1.35"/>
<circle cx="642.90" cy="327.00" r="1.35"/>
<circle cx="669.80" cy="327.00" r="1.35"/>
<circle cx="672.40" cy="327.00" r="1.35"/>
<circle cx="676.90" cy="327.00" r="1.35"/>
<circle cx="697.40" cy="327.00" r="1.35"/>
<circle cx="706.50" cy="327.00" r="1.35"/>
<circle cx="756.50" cy="327.00" r="1.35"/>
<circle cx="654.20" cy="333.04" r="1.35"/>
<circle cx="658.90" cy="333.04" r="1.35"/>
<circle cx="670.20" cy="333.04" r="1.35"/>
<circle cx="684.00" cy="333.04" r="1.35"/>
<circle cx="701.70" cy="333.04" r="1.35"/>
<circle cx="708.70" cy="333.04" r="1.35"/>
<circle cx="711.00" cy="333.04" r="1.35"/>
<circle cx="749.90" cy="333.04" r="1.35"/>
<circle cx="751.90" cy="333.04" r="1.35"/>
<circle cx="640.60" cy="339.08" r="1.35"/>
<circle cx="645.10" cy="339.08" r="1.35"/>
<circle cx="663.30" cy="339.08" r="1.35"/>
<circle cx="674.90" cy="339.08" r="1.35"/>
<circle cx="676.90" cy="339.08" r="1.35"/>
<circle cx="686.00" cy="339.08" r="1.35"/>
<circle cx="697.40" cy="339.08" r="1.35"/>
<circle cx="701.90" cy="339.08" r="1.35"/>
<circle cx="708.70" cy="339.08" r="1.35"/>
<circle cx="715.60" cy="339.08" r="1.35"/>
<circle cx="720.10" cy="339.08" r="1.35"/>
<circle cx="731.20" cy="339.08" r="1.35"/>
<circle cx="742.50" cy="339.08" r="1.35"/>
<circle cx="747.20" cy="339.08" r="1.35"/>
<circle cx="753.90" cy="339.08" r="1.35"/>
<circle cx="756.30" cy="339.08" r="1.35"/>
<circle cx="656.70" cy="345.13" r="1.35"/>
<circle cx="670.20" cy="345.13" r="1.35"/>
<circle cx="688.30" cy="345.13" r="1.35"/>
<circle cx="701.90" cy="345.13" r="1.35"/>
<circle cx="738.30" cy="345.13" r="1.35"/>
<circle cx="751.90" cy="345.13" r="1.35"/>
<circle cx="754.20" cy="345.13" r="1.35"/>
<circle cx="674.90" cy="351.17" r="1.35"/>
<circle cx="679.20" cy="351.17" r="1.35"/>
<circle cx="686.00" cy="351.17" r="1.35"/>
<circle cx="690.40" cy="351.17" r="1.35"/>
<circle cx="706.70" cy="351.17" r="1.35"/>
<circle cx="708.70" cy="351.17" r="1.35"/>
<circle cx="711.00" cy="351.17" r="1.35"/>
<circle cx="722.30" cy="351.17" r="1.35"/>
<circle cx="731.20" cy="351.17" r="1.35"/>
<circle cx="742.50" cy="351.17" r="1.35"/>
<circle cx="663.30" cy="357.22" r="1.35"/>
<circle cx="679.20" cy="357.22" r="1.35"/>
<circle cx="690.40" cy="357.22" r="1.35"/>
<circle cx="695.10" cy="357.22" r="1.35"/>
<circle cx="697.40" cy="357.22" r="1.35"/>
<circle cx="699.60" cy="357.22" r="1.35"/>
<circle cx="711.00" cy="357.22" r="1.35"/>
<circle cx="720.10" cy="357.22" r="1.35"/>
<circle cx="761.00" cy="357.22" r="1.35"/>
<circle cx="661.30" cy="363.26" r="1.35"/>
<circle cx="663.30" cy="363.26" r="1.35"/>
<circle cx="672.60" cy="363.26" r="1.35"/>
<circle cx="686.00" cy="363.26" r="1.35"/>
<circle cx="699.60" cy="363.26" r="1.35"/>
<circle cx="711.00" cy="363.26" r="1.35"/>
<circle cx="717.90" cy="363.26" r="1.35"/>
<circle cx="724.60" cy="363.26" r="1.35"/>
<circle cx="729.20" cy="363.26" r="1.35"/>
<circle cx="704.20" cy="369.31" r="1.35"/>
<circle cx="715.60" cy="369.31" r="1.35"/>
<circle cx="729.20" cy="369.31" r="1.35"/>
<circle cx="658.90" cy="375.35" r="1.35"/>
<circle cx="681.50" cy="375.35" r="1.35"/>
<circle cx="704.20" cy="375.35" r="1.35"/>
<circle cx="761.00" cy="375.35" r="1.35"/>
</svg>
</body></html>
